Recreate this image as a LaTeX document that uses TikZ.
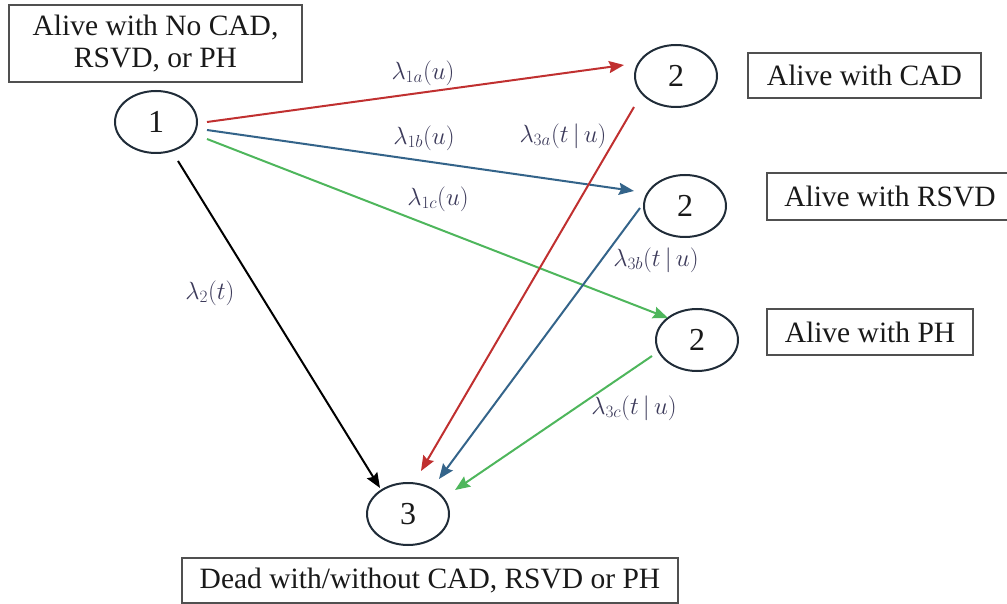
\documentclass[tikz,border=0pt]{standalone}
\usepackage{fontspec}
\setmainfont{Liberation Serif}
\usetikzlibrary{arrows.meta,shapes.geometric}
\definecolor{cred}{RGB}{192,48,48}
\definecolor{cblue}{RGB}{52,100,138}
\definecolor{cgreen}{RGB}{78,182,92}
\definecolor{cedge}{RGB}{32,44,56}
\definecolor{cbox}{RGB}{80,80,80}
\definecolor{clab}{RGB}{60,58,90}
\tikzset{
  state/.style={draw=cedge, line width=2pt, ellipse, minimum width=82pt, minimum height=62pt, inner sep=0pt, font=\fontsize{32}{34}\selectfont, text=black!90},
  labelbox/.style={draw=cbox, line width=1.8pt, inner sep=0pt, align=center, font=\fontsize{29.5}{32}\selectfont, text=black!90},
  rate/.style={text=clab, inner sep=0pt, font=\fontsize{27}{29}\selectfont},
  conn/.style={line width=2pt, -{Stealth[length=15pt,width=12pt,inset=2pt]}},
}
\begin{document}
\begin{tikzpicture}[x=1pt,y=-1pt]
\useasboundingbox (0,0) rectangle (1007,604);
% boxes
\node[labelbox, minimum width=293pt, minimum height=77pt] (b1) at (155.5,43.5) {Alive with No CAD,\\ RSVD, or PH};
\node[labelbox, minimum width=233pt, minimum height=45pt] (b2a) at (864.5,75.5) {Alive with CAD};
\node[labelbox, minimum width=246pt, minimum height=47pt] (b2b) at (890,196.5) {Alive with RSVD};
\node[labelbox, minimum width=206pt, minimum height=46pt] (b2c) at (870,332) {Alive with PH};
\node[labelbox, minimum width=496pt, minimum height=45pt] (b3) at (430,580.5) {Dead with/without CAD, RSVD or PH};
% states
\node[state] (n1) at (156,122) {1};
\node[state] (n2a) at (676,76) {2};
\node[state] (n2b) at (685,206) {2};
\node[state] (n2c) at (697,340) {2};
\node[state] (n3) at (408,514) {3};
% connectors
\draw[conn, cred] ([shift={(51,0)}]n1.center) -- ([shift={(-52,-11)}]n2a.center);
\draw[conn, cblue] ([shift={(51,8)}]n1.center) -- ([shift={(-51,-15)}]n2b.center);
\draw[conn, cgreen] ([shift={(51,17)}]n1.center) -- ([shift={(-29,-22)}]n2c.center);
\draw[conn, black] ([shift={(22,39)}]n1.center) -- ([shift={(-28,-26)}]n3.center);
\draw[conn, cred] ([shift={(-42,31)}]n2a.center) -- ([shift={(13,-43)}]n3.center);
\draw[conn, cblue] ([shift={(-45,2)}]n2b.center) -- ([shift={(31,-35)}]n3.center);
\draw[conn, cgreen] ([shift={(-45,16)}]n2c.center) -- ([shift={(47,-24)}]n3.center);
% rates
\node[rate] (l1a) at (423,73) {$\lambda_{1a}(u)$};
\node[rate] (l1b) at (424,138) {$\lambda_{1b}(u)$};
\node[rate] (l1c) at (438,199) {$\lambda_{1c}(u)$};
\node[rate] (l2) at (210,293) {$\lambda_{2}(t)$};
\node[rate] (l3a) at (563,136) {$\lambda_{3a}(t\,|\,u)$};
\node[rate] (l3b) at (656,260) {$\lambda_{3b}(t\,|\,u)$};
\node[rate] (l3c) at (634,408) {$\lambda_{3c}(t\,|\,u)$};
\end{tikzpicture}
\end{document}
